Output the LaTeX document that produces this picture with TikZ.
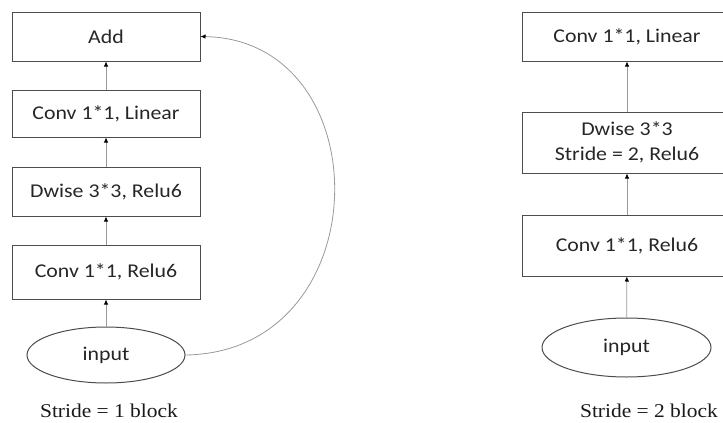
\documentclass[tikz,border=0pt]{standalone}
\usepackage{fontspec}
\usetikzlibrary{arrows.meta,shapes.geometric}
\newfontfamily\boxfont{Carlito}[FakeStretch=1.12]
\newfontfamily\capfont{Liberation Serif}[FakeStretch=1.1]
\begin{document}
\begin{tikzpicture}[x=1pt,y=-1pt,
  blk/.style={draw=black!70,line width=1pt,rectangle,inner sep=0pt,align=center,
    font=\boxfont\fontsize{19.5}{25}\selectfont,text=black!85},
  inp/.style={draw=black!70,line width=1pt,ellipse,inner sep=0pt,
    font=\boxfont\fontsize{19.5}{25}\selectfont,text=black!85},
  captxt/.style={font=\capfont\fontsize{19.5}{22}\selectfont,text=black!90,inner sep=0pt},
  flow/.style={draw=black!40,line width=0.8pt,-{Latex[black,length=5pt,width=4.5pt]}}]
\useasboundingbox (0,0) rectangle (723,423);
% left block
\node[blk,minimum width=188pt,minimum height=49pt] (add) at (106,36.5) {Add};
\node[blk,minimum width=188pt,minimum height=47pt] (lin1) at (106,113.5) {Conv 1*1, Linear};
\node[blk,minimum width=188pt,minimum height=49pt] (dw1) at (106,191.5) {Dwise 3*3, Relu6};
\node[blk,minimum width=188pt,minimum height=54pt] (cr1) at (106,272) {Conv 1*1, Relu6};
\node[inp,minimum width=158pt,minimum height=56pt] (in1) at (106,355) {input};
\node[captxt] (c1) at (109,411) {Stride = 1 block};
\draw[flow] (in1) -- (cr1);
\draw[flow] (cr1) -- (dw1);
\draw[flow] (dw1) -- (lin1);
\draw[flow] (lin1) -- (add);
\draw[flow] (in1.east) .. controls (380,352) and (382,40) .. (add.east);
% right block
\node[blk,minimum width=210pt,minimum height=49pt] (lin2) at (627,36.5) {Conv 1*1, Linear};
\node[blk,minimum width=210pt,minimum height=61pt] (dw2) at (627,142.5) {Dwise 3*3\\Stride = 2, Relu6};
\node[blk,minimum width=210pt,minimum height=61pt] (cr2) at (627,245.5) {Conv 1*1, Relu6};
\node[inp,minimum width=169pt,minimum height=59pt] (in2) at (626.5,347.5) {input};
\node[captxt] (c2) at (649,411) {Stride = 2 block};
\draw[flow] (in2) -- (cr2);
\draw[flow] (cr2) -- (dw2);
\draw[flow] (dw2) -- (lin2);
\end{tikzpicture}
\end{document}
